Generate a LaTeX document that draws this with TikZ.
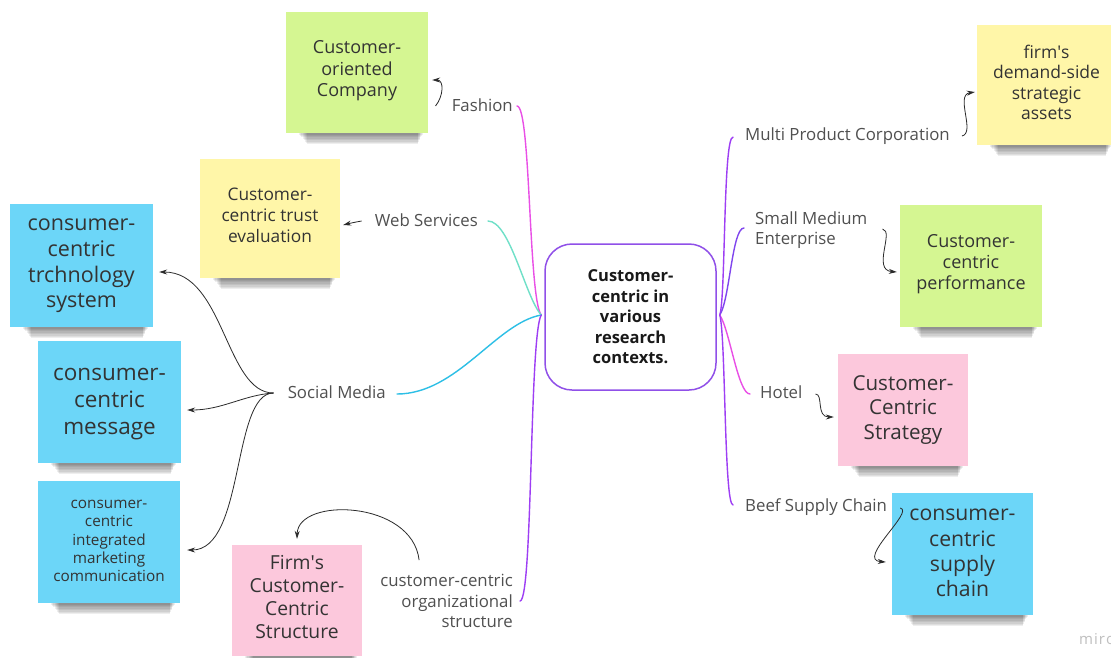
\documentclass[tikz,border=0pt]{standalone}
\usepackage{fontspec}
\setmainfont{Open Sans}
\usetikzlibrary{arrows.meta,calc}
\pgfdeclarelayer{base}
\pgfdeclarelayer{background}
\pgfsetlayers{base,background,main}
\definecolor{sgreen}{HTML}{D5F692}
\definecolor{syellow}{HTML}{FFF6A8}
\definecolor{sblue}{HTML}{6CD6F8}
\definecolor{spink}{HTML}{FCC8DC}
\definecolor{stxt}{HTML}{333333}
\definecolor{ltxt}{HTML}{505050}
\definecolor{atxt}{HTML}{2A2A2A}
\definecolor{hubc}{HTML}{9050E8}
\definecolor{cmag}{HTML}{E94FE6}
\definecolor{cteal}{HTML}{6FE0C8}
\definecolor{ccyan}{HTML}{2DBFE6}
\definecolor{cpurp}{HTML}{9E3EF4}
\definecolor{cviol}{HTML}{8046EE}
\tikzset{
  sticky/.style={inner sep=0pt, align=center, text=stxt},
  lbl/.style={inner sep=2pt, text=ltxt, font=\fontsize{16.8}{20.5}\selectfont},
  branch/.style={line width=1.4pt, line cap=round},
  arr/.style={line width=0.8pt, draw=atxt, -{Stealth[length=8pt,width=5pt]}},
}
\newcommand\stkshadow[1]{%
  \foreach \k in {1,...,8}{%
    \fill[black,opacity=0.065] ($(#1.south west)+(12+1.2*\k,-3)$) rectangle ($(#1.south east)+(-5-0.7*\k,1.4*\k)$);
  }}
\begin{document}
\begin{tikzpicture}[x=1pt,y=-1pt]
\begin{pgfonlayer}{base}
\fill[white] (0,0) rectangle (1111,657);
\end{pgfonlayer}
\useasboundingbox (0,0) rectangle (1111,657);

% stickies
\node[sticky, fill=sgreen, minimum width=142, minimum height=121, text depth=8pt,
      font=\fontsize{18}{21.5}\selectfont] (g1) at (357,72.5) {Customer-\\oriented\\Company};
\node[sticky, fill=syellow, minimum width=140, minimum height=119, text depth=6pt,
      font=\fontsize{17.3}{21}\selectfont] (yt) at (270,218.5) {Customer-\\centric trust\\evaluation};
\node[sticky, fill=sblue, minimum width=143, minimum height=123, text depth=4pt,
      font=\fontsize{21.5}{25.7}\selectfont] (b1) at (81.5,265.5) {consumer-\\centric\\trchnology\\system};
\node[sticky, fill=sblue, minimum width=143, minimum height=122, text depth=2pt,
      font=\fontsize{22.5}{27}\selectfont] (b2) at (109.5,402) {consumer-\\centric\\message};
\node[sticky, fill=sblue, minimum width=142, minimum height=122, text depth=2pt,
      font=\fontsize{15.3}{18.3}\selectfont] (b3) at (109,542) {consumer-\\centric\\integrated\\marketing\\communication};
\node[sticky, fill=spink, minimum width=130, minimum height=111, text depth=7pt,
      font=\fontsize{19.3}{23}\selectfont] (fs) at (297,600.5) {Firm\textquotesingle s\\Customer-\\Centric\\Structure};
\node[sticky, fill=syellow, minimum width=139, minimum height=120, text depth=5pt,
      font=\fontsize{17.5}{20.5}\selectfont] (ys) at (1046.5,85) {firm\textquotesingle s\\demand-side\\strategic\\assets};
\node[sticky, fill=sgreen, minimum width=142, minimum height=122, text depth=8pt,
      font=\fontsize{18}{21}\selectfont] (gp) at (971,266) {Customer-\\centric\\performance};
\node[sticky, fill=spink, minimum width=130, minimum height=112, text depth=5pt,
      font=\fontsize{20.6}{24.5}\selectfont] (ps) at (903,410) {Customer-\\Centric\\Strategy};
\node[sticky, fill=sblue, minimum width=141, minimum height=122, text depth=2pt,
      font=\fontsize{21.2}{25.3}\selectfont] (bs) at (962.5,554) {consumer-\\centric\\supply\\chain};

\begin{pgfonlayer}{background}
  \stkshadow{g1}\stkshadow{yt}\stkshadow{b1}\stkshadow{b2}\stkshadow{b3}
  \stkshadow{fs}\stkshadow{ys}\stkshadow{gp}\stkshadow{ps}\stkshadow{bs}
\end{pgfonlayer}

% hub
\node[draw=hubc, line width=1.5pt, fill=white, rounded corners=27pt,
      minimum width=171, minimum height=146, align=center, inner sep=0pt,
      text=black!90, font=\bfseries\fontsize{16.5}{20.5}\selectfont] (hub) at (630.5,317)
      {Customer-\\centric in\\various\\research\\contexts.};
\coordinate (jl) at ([xshift=-3pt,yshift=2pt]hub.west);
\coordinate (jr) at ([xshift=3pt,yshift=2pt]hub.east);

% labels
\node[lbl, anchor=mid east] (lfash) at (515,109) {Fashion};
\node[lbl, anchor=mid east] (lweb) at (480,224) {Web Services};
\node[lbl, anchor=mid east] (lsoc) at (388,396) {Social Media};
\node[lbl, anchor=east, align=right] (lorg) at (515,601) {customer-centric\\organizational\\structure};
\node[lbl, anchor=mid west] (lmulti) at (743,138) {Multi Product Corporation};
\node[lbl, anchor=west, align=left] (lsme) at (753,230) {Small Medium\\Enterprise};
\node[lbl, anchor=mid west] (lhotel) at (758,396) {Hotel};
\node[lbl, anchor=mid west] (lbeef) at (743,509) {Beef Supply Chain};
\node[anchor=mid west, inner sep=0pt, text=black!25, font=\fontsize{15}{15}\selectfont] (wm) at (1079,642) {m\kern1pt i\kern1pt r\kern1pt o};

% branches
\draw[branch, draw=cmag] ($(lfash.mid east)+(2,-3)$) .. controls +(14,0) and +(-13,-17) .. (jl);
\draw[branch, draw=cteal] ($(lweb.mid east)+(8,-3)$) .. controls +(22,0) and +(-16,-18) .. (jl);
\draw[branch, draw=ccyan] ($(lsoc.mid east)+(9,-2)$) .. controls +(60,0) and +(-45,8) .. (jl);
\draw[branch, draw=cpurp] ($(lorg.east)+(5,0)$) .. controls +(13,0) and +(-12,20) .. (jl);
\draw[branch, draw=cpurp] ($(lmulti.mid west)+(-10,-1)$) .. controls +(-10,0) and +(6,-17) .. (jr);
\draw[branch, draw=cviol] ($(lsme.west)+(-9,-2)$) .. controls +(-12,0) and +(10,-15) .. (jr);
\draw[branch, draw=cmag] ($(lhotel.mid west)+(-8,-2)$) .. controls +(-12,0) and +(10,15) .. (jr);
\draw[branch, draw=cpurp] ($(lbeef.mid west)+(-10,-4)$) .. controls +(-9,0) and +(6,20) .. (jr);

% arrows
\draw[arr] ($(lfash.mid west)+(-14,-3)$) .. controls +(8,-10) and +(12,0) .. ($(g1.east)+(4,7.5)$);
\draw[arr] ($(lweb.mid west)+(-11,-3)$) .. controls +(-6,1) and +(8,-2) .. ($(yt.east)+(3,6.5)$);
\draw[arr] ($(lsoc.mid west)+(-12,-3)$) .. controls +(-48,0) and +(65,0) .. ($(b1.east)+(6,6.5)$);
\draw[arr] ($(lsoc.mid west)+(-12,-3)$) .. controls +(-30,2) and +(35,0) .. ($(b2.east)+(6,8)$);
\draw[arr] ($(lsoc.mid west)+(-12,-3)$) .. controls +(-42,0) and +(58,0) .. ($(b3.east)+(7,8)$);
\draw[arr] ($(lorg.north west)+(41,-12)$) .. controls +(-7,-60) and +(1,-42) .. ($(fs.north)+(0,-6)$);
\draw[arr] ($(lmulti.mid east)+(10,-2)$) .. controls +(14,-3) and +(-20,3) .. ($(ys.west)+(-2,7)$);
\draw[arr] ($(lsme.east)+(13,-1)$) .. controls +(12,2) and +(-25,-2) .. ($(gp.west)+(-3,6)$);
\draw[arr] ($(lhotel.mid east)+(11,-2)$) .. controls +(8,0) and +(-18,0) .. ($(ps.west)+(-4,7)$);
\draw[arr] ($(lbeef.mid east)+(11,-1)$) .. controls +(15,3) and +(-30,-2) .. ($(bs.west)+(-6,8)$);
\end{tikzpicture}
\end{document}
